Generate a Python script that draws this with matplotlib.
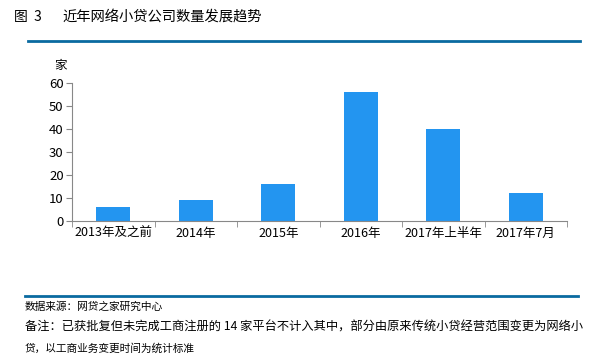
import matplotlib
matplotlib.use("Agg")
import matplotlib.pyplot as plt
from matplotlib.lines import Line2D
import numpy as np

plt.rcParams['font.family'] = ['Noto Sans CJK SC', 'DejaVu Sans']

categories = ["2013年及之前", "2014年", "2015年", "2016年", "2017年上半年", "2017年7月"]
counts = [6, 9, 16, 56, 40, 12]
yticks = [0, 10, 20, 30, 40, 50, 60]

title_no = "图  3"
title = "近年网络小贷公司数量发展趋势"
source = "数据来源：网贷之家研究中心"
note1 = "备注：已获批复但未完成工商注册的 14 家平台不计入其中，部分由原来传统小贷经营范围变更为网络小"
note2 = "贷，以工商业务变更时间为统计标准"

W, H = 596, 362
fig = plt.figure(figsize=(W / 100, H / 100), dpi=100)
ax = fig.add_axes([72 / W, 1 - 221 / H, (567 - 72) / W, (221 - 83) / H])

x = np.arange(len(categories))
ax.bar(x, counts, width=0.41, color="#2395F0")
ax.set_xlim(-0.5, len(categories) - 0.5)
ax.set_ylim(0, 60)
ax.set_yticks(yticks)
ax.tick_params(axis="y", labelsize=9.5, length=4, color="#888888", pad=2)

ax.set_xticks(x)
ax.set_xticklabels(categories, fontsize=9)
ax.tick_params(axis="x", length=0, pad=4)
ax.set_xticks(np.arange(-0.5, len(categories)), minor=True)
ax.tick_params(axis="x", which="minor", length=4, color="#888888")

for side in ["top", "right"]:
    ax.spines[side].set_visible(False)
for side in ["left", "bottom"]:
    ax.spines[side].set_color("#888888")

fig.text(60 / W, 1 - 65 / H, "家", fontsize=9, ha="center", va="center")

# header and footer
fig.text(14 / W, 1 - 17 / H, title_no, fontsize=10, va="center")
fig.text(62 / W, 1 - 17 / H, title, fontsize=10.3, va="center")
fig.add_artist(Line2D([28 / W, 580 / W], [1 - 41 / H, 1 - 41 / H], color="#0A6AA0", lw=2))
fig.add_artist(Line2D([25 / W, 578 / W], [1 - 296 / H, 1 - 296 / H], color="#0A6AA0", lw=2))
fig.text(25 / W, 1 - 307 / H, source, fontsize=7.7, va="center")
fig.text(25 / W, 1 - 327 / H, note1, fontsize=8.8, va="center")
fig.text(25 / W, 1 - 348 / H, note2, fontsize=7.7, va="center")

fig.savefig("out.png", dpi=100)
